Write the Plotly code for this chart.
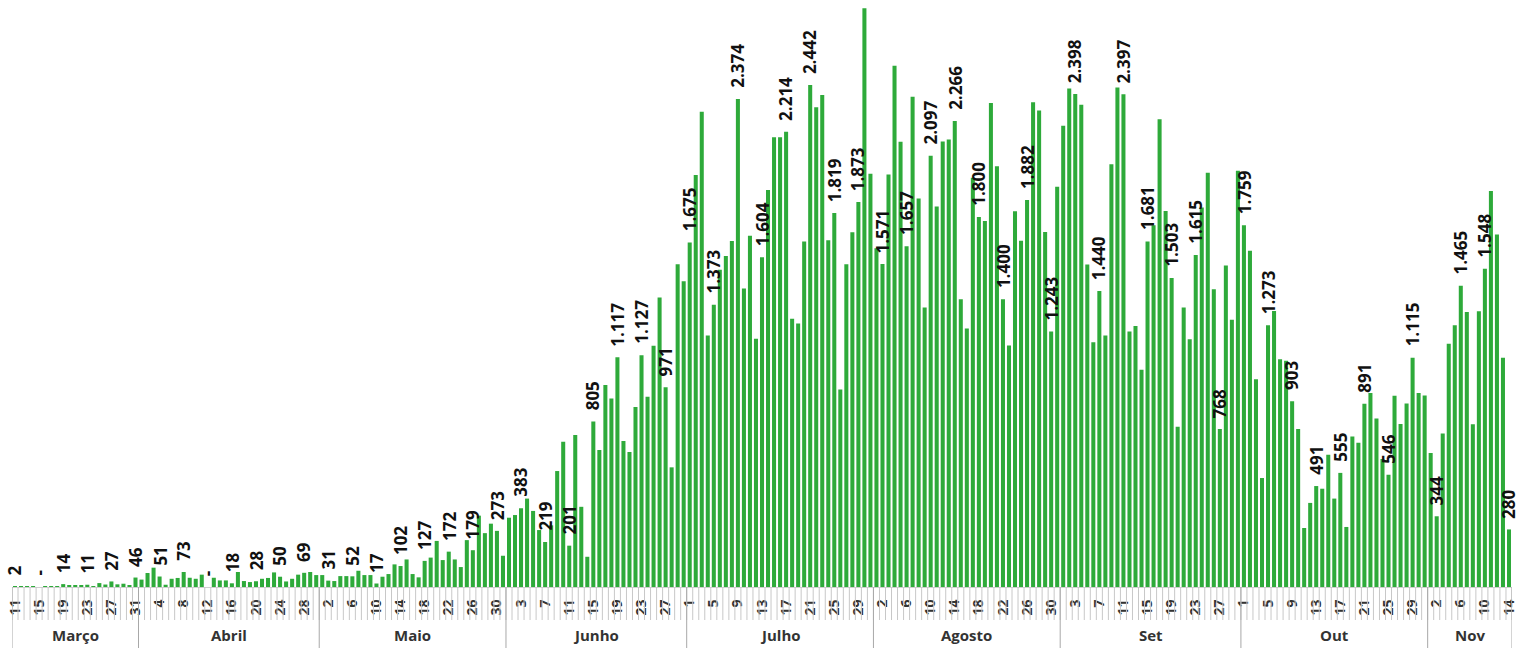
import plotly.graph_objects as go

# ---- data (daily values) ----
months = ["Março", "Abril", "Maio", "Junho", "Julho", "Agosto", "Set", "Out", "Nov"]
first_day = [11, 1, 1, 1, 1, 1, 1, 1, 1]

mar_vals = [2, 1, 1, 2, 0, 1, 2, 4, 14, 6, 6, 5, 11, 4, 19, 12, 27, 13, 16, 7, 46]
abr_vals = [36, 68, 94, 51, 11, 40, 44, 73, 45, 40, 60, 0, 45, 32, 32, 18, 73, 29, 24, 28,
            40, 44, 71, 50, 27, 40, 60, 69, 73, 58]
mai_vals = [58, 31, 29, 53, 53, 52, 79, 58, 58, 17, 50, 63, 110, 102, 134, 63, 47, 127, 143, 224,
            131, 172, 134, 97, 228, 179, 347, 262, 308, 273, 152]
jun_vals = [337, 350, 383, 430, 370, 277, 219, 300, 564, 706, 201, 739, 390, 147, 805, 666, 983, 917,
            1117, 710, 656, 875, 1127, 925, 1173, 1408, 971, 582, 1570, 1487]
jul_vals = [1675, 2004, 2311, 1223, 1373, 1543, 1610, 1683, 2374, 1452, 1708, 1208, 1604, 1931, 2188,
            2188, 2214, 1305, 1281, 1681, 2442, 2333, 2393, 1687, 1819, 961, 1570, 1726, 1873, 2815, 2010]
ago_vals = [1648, 1571, 2006, 2535, 2165, 1657, 2384, 1889, 1359, 2097, 1851, 2167, 2176, 2266, 1400,
            1257, 1991, 1800, 1780, 2354, 2046, 1400, 1174, 1827, 1684, 1882, 2358, 2318, 1727, 1243, 1947]
set_vals = [2243, 2425, 2398, 2345, 1569, 1190, 1440, 1223, 2056, 2430, 2397, 1243, 1270, 1057, 1681,
            1760, 2275, 1829, 1503, 780, 1359, 1205, 1615, 1846, 2015, 1448, 768, 1564, 1300, 2024]
out_vals = [1759, 1636, 1011, 530, 1273, 1342, 1108, 1100, 903, 769, 287, 409, 491, 478, 643, 430,
            555, 292, 732, 701, 891, 943, 820, 623, 546, 930, 793, 893, 1115, 944, 931]
nov_vals = [652, 344, 746, 1183, 1273, 1465, 1337, 791, 1341, 1548, 1926, 1715, 1115, 280]

series = [mar_vals, abr_vals, mai_vals, jun_vals, jul_vals, ago_vals, set_vals, out_vals, nov_vals]
label_step = 4

# ---- build flat arrays ----
days, values, month_idx = [], [], []
for m, (vals, d0) in enumerate(zip(series, first_day)):
    for k, v in enumerate(vals):
        days.append(d0 + k)
        values.append(v)
        month_idx.append(m)
x = list(range(len(values)))


def fmt(v):
    return "-" if v == 0 else f"{v:,}".replace(",", ".")


fig = go.Figure(go.Bar(
    x=x, y=values,
    marker=dict(color="#2eaa3a", line=dict(width=0)),
    hoverinfo="skip",
))

PLOT_H = 587.0
shapes = []
annotations = []

# value labels (every 4th day), rotated, above the bar
for i in x[::label_step]:
    annotations.append(dict(x=i, y=values[i], xref="x", yref="y", text=fmt(values[i]),
                            showarrow=False, textangle=-90, xanchor="center", yanchor="bottom",
                            yshift=10, borderpad=0,
                            font=dict(family="Open Sans", size=17, color="#111111", weight="bold")))

# category tick separators
for i in range(len(values) + 1):
    shapes.append(dict(type="line", xref="x", yref="paper", x0=i - 0.5, x1=i - 0.5,
                       y0=0, y1=-33 / PLOT_H, line=dict(color="#c8c8c8", width=1)))
# month separators + labels
starts = [month_idx.index(m) for m in range(len(months))]
bounds = starts + [len(values)]
for b in bounds:
    shapes.append(dict(type="line", xref="x", yref="paper", x0=b - 0.5, x1=b - 0.5,
                       y0=0, y1=-61 / PLOT_H, line=dict(color="#a8a8a8", width=1)))
for m, name in enumerate(months):
    cx = (bounds[m] + bounds[m + 1] - 1) / 2
    annotations.append(dict(x=cx, y=-48 / PLOT_H, xref="x", yref="paper", text=name,
                            showarrow=False, yanchor="middle",
                            font=dict(family="Open Sans", size=15, color="#333333", weight="bold")))

fig.update_layout(
    width=1522, height=650, autosize=False,
    margin=dict(l=12, r=10, t=0, b=63),
    paper_bgcolor="white", plot_bgcolor="white",
    bargap=0.33, showlegend=False,
    shapes=shapes, annotations=annotations,
    xaxis=dict(range=[-0.5, len(values) - 0.5], tickmode="array",
               tickvals=x[::label_step], ticktext=[str(d) for d in days[::label_step]],
               tickangle=-90, ticks="", showgrid=False, zeroline=False,
               showline=True, linecolor="#d0d0d0", linewidth=1,
               ticklabelstandoff=6,
               tickfont=dict(family="Open Sans", size=14, color="#333333", weight="bold")),
    yaxis=dict(range=[0, 2855], visible=False, showgrid=False, zeroline=False),
)

fig.write_html("out.html", config={"displayModeBar": False},
               post_script="document.body.style.margin='0';document.body.style.overflow='hidden';")
